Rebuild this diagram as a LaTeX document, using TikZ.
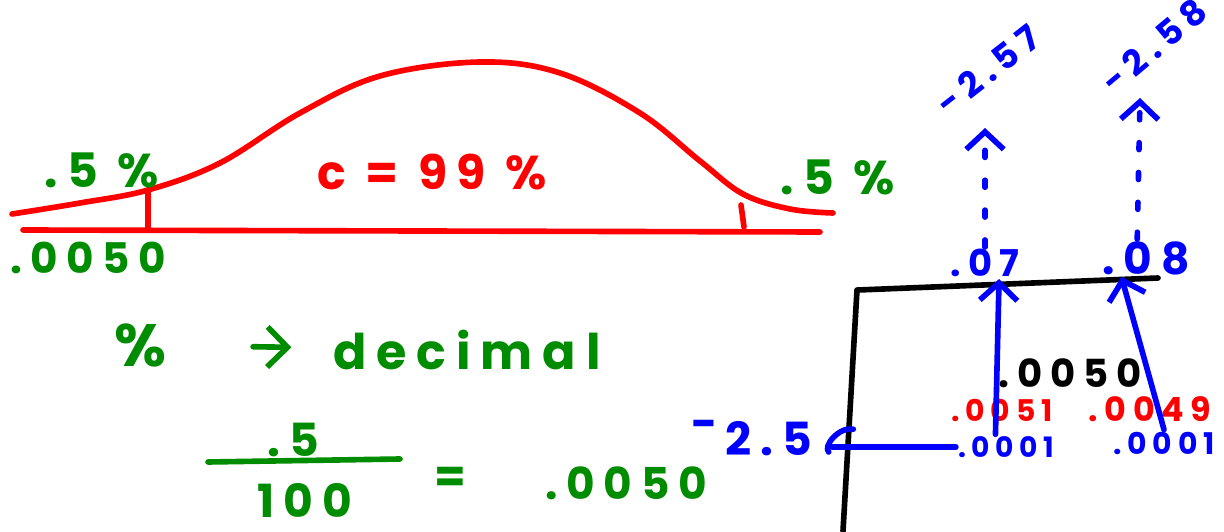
\documentclass[tikz,border=0pt]{standalone}
\usepackage{fontspec}
\newfontfamily\handfont[LetterSpace=20]{Poppins}
\usetikzlibrary{arrows.meta, positioning}
\usepackage{xcolor}
\definecolor{inkRed}{RGB}{255,0,0}
\definecolor{inkGreen}{RGB}{0,140,0}
\definecolor{inkBlue}{RGB}{0,0,255}
\tikzset{
    font=\handfont,
    >=Stealth,
    % Strokes
    pen/.style={line width=3.2pt, line cap=round, line join=round},
    dots/.style={dash pattern=on 4pt off 13pt},
    caret/.style={-{Straight Barb[length=0.35cm, width=0.75cm]}},
    % Labels
    hand/.style={inner sep=1pt, font=\handfont\bfseries\fontsize{#1}{#1}\selectfont},
    hand/.default=22
}

\begin{document}
\begin{tikzpicture}[x=0.02cm, y=0.02cm]
\useasboundingbox (0,0) rectangle (1224,531);

% normal curve
\draw[pen, inkRed] plot[smooth, tension=0.6] coordinates {(12,317) (80,328) (148,341) (220,368)
    (300,418) (380,455) (480,469) (560,458) (640,418) (700,370) (743,337) (790,322) (833,318)};
\draw[pen, inkRed] (23,301) -- (820,299);
\draw[pen, inkRed] (148,341) -- (148,301);
\draw[pen, inkRed] (741,326) -- (744,304);

\node[hand=27, text=inkGreen] (tailL) at (102,361) {.5 \%};
\node[hand=27, text=inkRed] (conf) at (432,359) {c = 99 \%};
\node[hand=27, text=inkGreen] (tailR) at (838,354) {.5 \%};
\node[hand=24, text=inkGreen] (cutL) at (88,273) {.0050};

% percent to decimal
\node[hand=34, text=inkGreen] (pct) at (140,186) {\%};
\node[hand=28, text=inkGreen] (dec) at (467,181) {decimal};
\draw[pen, inkGreen, -{Straight Barb[length=0.4cm, width=0.8cm]}, shorten <=1.7cm, shorten >=0.8cm] (pct) -- (dec);

\node[hand=26, text=inkGreen] (num) at (293,91) {.5};
\node[hand=26, text=inkGreen] (den) at (305,31) {100};
\draw[pen, inkGreen] (208,69) -- (400,72);
\node[hand=26, text=inkGreen] (eq) at (450,51) {=};
\node[hand=25, text=inkGreen] (res) at (626,48) {.0050};

% z table
\draw[pen, black] (857,241) -- (843,0);
\draw[pen, black] (858,241) -- (1158,253);

\node[hand=21, text=inkBlue] (c07) at (985,268) {.07};
\node[hand=25, text=inkBlue] (c08) at (1146,273) {.08};
\node[hand=20, text=inkBlue, rotate=38] (z257) at (988,461) {-2.57};
\node[hand=20, text=inkBlue, rotate=40] (z258) at (1154,485) {-2.58};
\coordinate (tip07) at (985,403);
\coordinate (tip08) at (1140,433);

\node[hand=22, text=black] (p0050) at (1070,158) {.0050};
\node[hand=17, text=inkRed] (pL) at (1002,121) {.0051};
\node[hand=19, text=inkRed] (pR) at (1150,122) {.0049};
\node[hand=16, text=inkBlue] (r1) at (1006,84) {.0001};
\node[hand=17, text=inkBlue] (r2) at (1164,88) {.0001};
\node[hand=26, text=inkBlue] (z25) at (752,93) {\raisebox{0.6ex}{-}\,2.5};

\draw[pen, inkBlue] ([xshift=22,yshift=5]z25.east) .. controls +(-14,3) and +(-6,6) .. ([xshift=8,yshift=-8]z25.east);
\draw[pen, inkBlue] ([xshift=10]z25.east |- r1.west) -- (r1.west);
\draw[pen, inkBlue, caret] ([xshift=-6]r1.north) -- ([xshift=8]c07.south);
\draw[pen, inkBlue, caret] (r2.north) -- ([xshift=-14]c08.south);
\draw[pen, inkBlue, dots, caret] (c07.north) -- (tip07);
\draw[pen, inkBlue, dots, caret] ([xshift=-5]c08.north) -- (tip08);

\end{tikzpicture}
\end{document}
